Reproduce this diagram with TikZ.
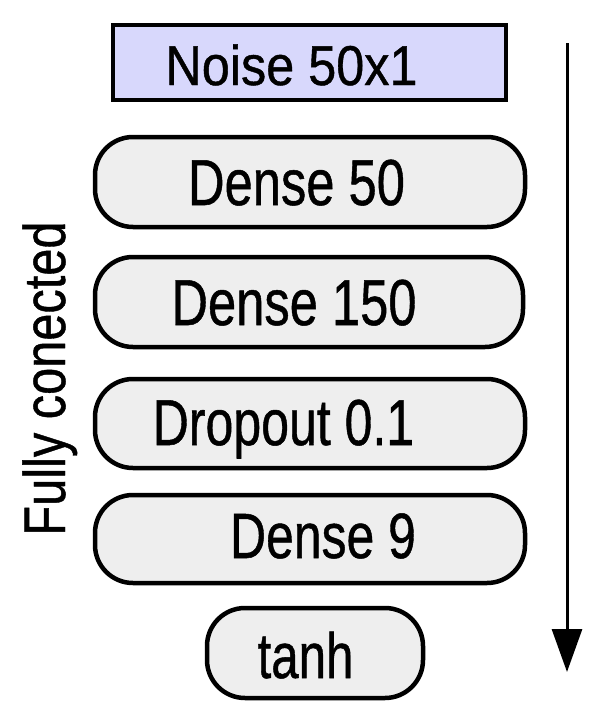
\documentclass[tikz,border=0pt]{standalone}
\usepackage{fontspec}
\usepackage{graphicx}
\setmainfont[FakeBold=0.8]{Liberation Sans}
\usetikzlibrary{arrows.meta}
\newcommand{\lbltxt}[3]{\scalebox{#2}[1]{\fontsize{#1}{#1}\selectfont #3}}
\definecolor{noisefill}{HTML}{D8D8FC}
\definecolor{layerfill}{HTML}{EEEEEE}
\tikzset{
  noisebox/.style={draw=black, line width=4.5pt, fill=noisefill, rectangle, inner sep=0pt},
  layerbox/.style={draw=black, line width=4.5pt, fill=layerfill, rounded corners=38pt, rectangle, inner sep=0pt},
  lbl/.style={inner sep=0pt, anchor=base, text=black},
  flowarrow/.style={line width=3pt, -{Triangle[width=30pt,length=43pt]}}
}
\begin{document}
\begin{tikzpicture}[x=1pt, y=-1pt]
\useasboundingbox (0,0) rectangle (600,720);
% boxes
\node[noisebox, minimum width=393pt, minimum height=75pt] (noise) at (309.5,62.5) {};
\node[layerbox, minimum width=430pt, minimum height=90pt] (d50) at (310,182) {};
\node[layerbox, minimum width=428pt, minimum height=90pt] (d150) at (309,302) {};
\node[layerbox, minimum width=430pt, minimum height=89pt] (drop) at (310,423.5) {};
\node[layerbox, minimum width=430pt, minimum height=88pt] (d9) at (310,539) {};
\node[layerbox, minimum width=216pt, minimum height=90pt] (tanh) at (315,653) {};
% labels
\node[lbl] (tnoise) at (291.5,85) {\lbltxt{56pt}{0.90}{Noise 50x1}};
\node[lbl] (td50) at (296.5,205) {\lbltxt{65pt}{0.78}{Dense 50}};
\node[lbl] (td150) at (294,325) {\lbltxt{65pt}{0.78}{Dense 150}};
\node[lbl] (tdrop) at (283.5,445) {\lbltxt{65pt}{0.77}{Dropout 0.1}};
\node[lbl] (td9) at (323,558) {\lbltxt{64pt}{0.78}{Dense 9}};
\node[lbl] (ttanh) at (305.5,678) {\lbltxt{64pt}{0.77}{tanh}};
\node[lbl, rotate=90] (fc) at (65,378.5) {\lbltxt{58.7pt}{0.83}{Fully conected}};
% arrow
\coordinate (atop) at (567,43);
\coordinate (abot) at (567,672);
\draw[flowarrow] (atop) -- (abot);
\end{tikzpicture}
\end{document}
